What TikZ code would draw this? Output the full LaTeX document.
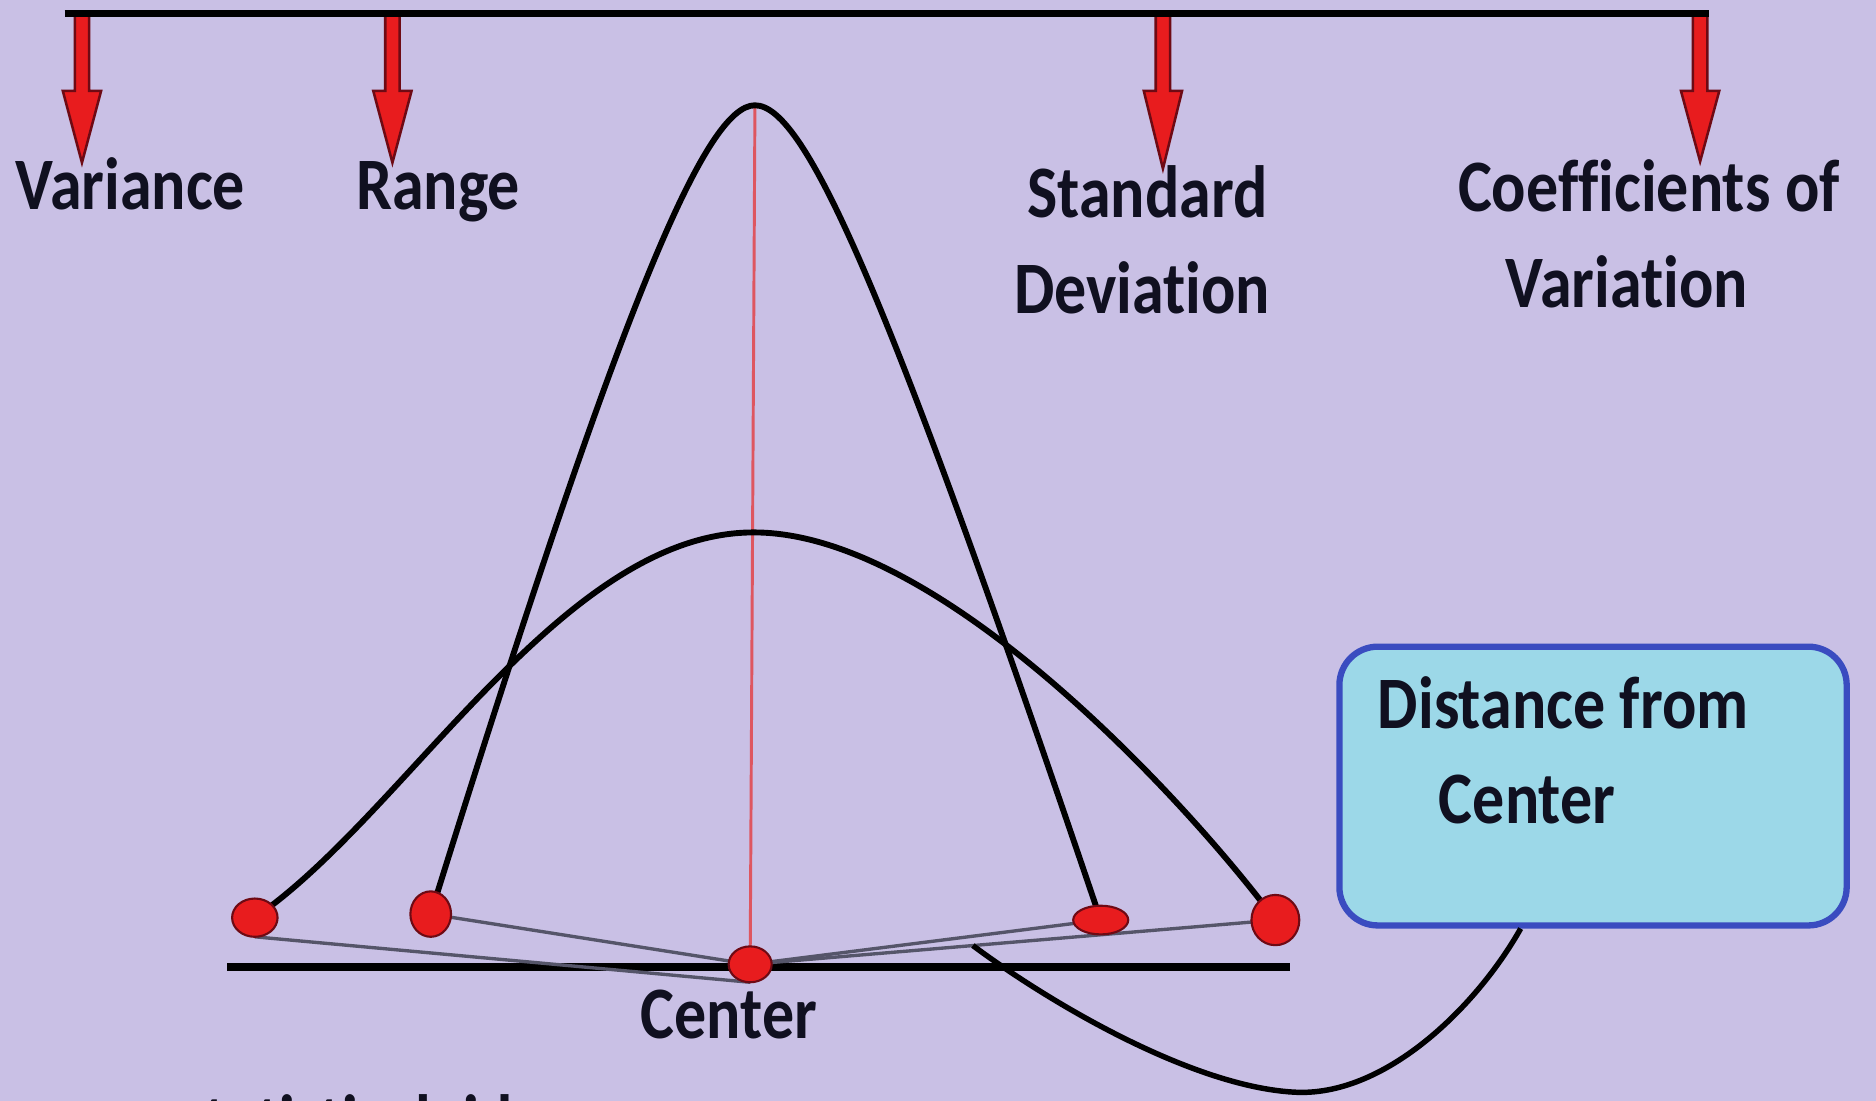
\documentclass[tikz,border=0pt]{standalone}
\usepackage{fontspec}
\setmainfont{Carlito}[Ligatures={NoCommon,NoRare,NoContextual}]
\usetikzlibrary{shapes.geometric,calc}
\definecolor{bg}{RGB}{201,192,229}
\definecolor{arrred}{RGB}{232,28,30}
\definecolor{arrdark}{RGB}{110,10,20}
\definecolor{boxfill}{RGB}{156,216,232}
\definecolor{boxline}{RGB}{58,76,192}
\definecolor{vline}{RGB}{222,86,96}
\definecolor{txt}{RGB}{16,16,32}
\definecolor{gline}{RGB}{85,85,105}
\newcommand\lbl[1]{\scalebox{0.865}[1]{#1}}
\newcommand\redarrow[2]{\filldraw[arrowshape] (#1-6,11) -- (#1+6,11) -- (#1+6,76) -- (#1+16,76) -- (#1,#2) -- (#1-16,76) -- (#1-6,76) -- cycle;}
\begin{document}
\begin{tikzpicture}[x=0.1mm,y=-0.1mm,
  lab/.style={anchor=base west, inner sep=0pt, text=txt, font=\fontsize{17.6}{21}\selectfont\bfseries},
  dot/.style={ellipse, draw=arrdark, fill=arrred, line width=0.5pt, inner sep=0pt},
  bell/.style={line width=1.4pt, black},
  thinline/.style={line width=0.8pt, gline},
  arrowshape/.style={fill=arrred, draw=arrdark, line width=0.6pt},
]
\clip (0,0) rectangle (1568,920);
\fill[bg] (0,0) rectangle (1568,920);

% top bar with arrows
\redarrow{68.5}{136}
\redarrow{328}{136}
\redarrow{972}{141}
\redarrow{1421}{135}
\coordinate (tl) at (54,11);
\coordinate (tr) at (1428,11);
\draw[line width=1.7pt] (tl) -- (tr);

% labels
\node[lab] (var) at (12.5,175.5) {\lbl{Variance}};
\node[lab] (rng) at (297,175) {\lbl{Range}};
\node[lab] (sd1) at (858,182) {\lbl{Standard}};
\node[lab] (sd2) at (847,262) {\lbl{Deviation}};
\node[lab] (cv1) at (1218,177) {\lbl{Coefficients of}};
\node[lab] (cv2) at (1258,257) {\lbl{Variation}};

% key points
\coordinate (p1) at (213,767);
\coordinate (p1s) at (213,783);
\coordinate (p2) at (360,764);
\coordinate (pc) at (627,806);
\coordinate (pcs) at (627,821);
\coordinate (p4) at (920,769);
\coordinate (p5) at (1066,769);
\coordinate (peak) at (631,88);
\coordinate (wpeak) at (630,445);

% base line
\coordinate (bl) at (190,808);
\coordinate (br) at (1078,808);
\draw[line width=1.8pt] (bl) -- (br);

% thin lines to the center
\draw[thinline] (p1s) -- (pcs);
\draw[thinline] (p2) -- (pc);
\draw[thinline] (p4) -- (pc);
\draw[thinline] (p5) -- (pc);

% red center line
\draw[vline, line width=0.7pt] (peak) -- (pc);

% bell curves
\draw[bell] (p2) .. controls (520,250) and (590,88) .. (peak)
            .. controls (674,88) and (744,250) .. (p4);
\draw[bell] (p1) .. controls (340,680) and (470,445) .. (wpeak)
            .. controls (790,445) and (1000,680) .. (p5);

% dots
\node[dot, minimum width=3.8mm, minimum height=3.2mm] (d1) at (p1) {};
\node[dot, minimum width=3.4mm, minimum height=3.8mm] (d2) at (p2) {};
\node[dot, minimum width=3.6mm, minimum height=3.0mm] (dc) at (pc) {};
\node[dot, minimum width=4.6mm, minimum height=2.4mm] (d4) at (p4) {};
\node[dot, minimum width=4.0mm, minimum height=4.2mm] (d5) at (p5) {};

\node[lab] (ctr) at (535,868) {\lbl{Center}};

% box
\node[draw=boxline, fill=boxfill, line width=1.5pt, rounded corners=3.2mm,
      minimum width=42.4mm, minimum height=23.3mm, inner sep=0pt] (box) at (1331.5,657) {};
\node[lab] (bt1) at (1151,609) {\lbl{Distance from}};
\node[lab] (bt2) at (1202,688) {\lbl{Center}};

% connector from box to the distance line
\coordinate (cend) at ($(p5)!0.576!(pc)$);
\draw[bell, line width=1.3pt] ([xshift=-6.05mm]box.south) .. controls (1235,840) and (1160,915) .. (1085,913)
   .. controls (1000,910) and (880,840) .. (cend);

% cut-off caption at the bottom (only its tops show, as in the reference)
\node[lab] (url) at (18,958) {\lbl{www.statisticalaid.com}};
\end{tikzpicture}
\end{document}
